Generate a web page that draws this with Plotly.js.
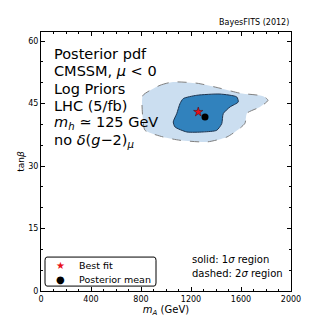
<!DOCTYPE html>
<html>
<head>
<meta charset="utf-8">
<script src="https://cdn.plot.ly/plotly-3.0.1.min.js"></script>
<style>
  html, body { margin: 0; padding: 0; background: #fff; }
  #plot { width: 324px; height: 324px; }
</style>
</head>
<body>
<div id="plot"></div>
<script>
// 2 sigma region (dashed)
var outerX = [816, 952, 1056, 1248, 1432, 1592, 1776, 1816, 1752, 1648, 1632, 1592, 1488, 1328, 1112, 976, 832, 816, 808, 816];
var outerY = [47.0, 49.4, 50.2, 49.9, 48.7, 47.5, 46.8, 45.8, 44.2, 42.7, 40.3, 39.1, 37.0, 35.8, 36.2, 37.0, 38.6, 41.0, 45.1, 47.0];

// 1 sigma region (solid)
var innerX = [1138, 1246, 1432, 1566, 1578, 1512, 1458, 1446, 1406, 1298, 1166, 1072, 1058, 1086, 1112, 1138];
var innerY = [46.2, 47.0, 47.3, 46.6, 45.4, 44.2, 42.6, 40.2, 38.6, 38.2, 38.2, 39.4, 40.6, 42.6, 45.0, 46.2];

var bestFit = {x: [1258], y: [43.0]};
var postMean = {x: [1312], y: [41.8]};

var infoLines = ['Posterior pdf', 'CMSSM, <i>μ</i> < 0', 'Log Priors', 'LHC (5/fb)',
                 '<i>m</i><sub><i>h</i></sub> ≃ 125 GeV', 'no <i>δ</i>(<i>g</i>−2)<sub><i>μ</i></sub>'];
var legendLabels = ['Best fit', 'Posterior mean'];

var font = 'DejaVu Sans, sans-serif';

var data = [
  {
    x: outerX, y: outerY, type: 'scatter', mode: 'lines', fill: 'toself',
    fillcolor: '#cbdef0', line: {color: '#7f7f7f', width: 1, dash: 'dash', shape: 'spline', smoothing: 0.6},
    showlegend: false, hoverinfo: 'skip'
  },
  {
    x: innerX, y: innerY, type: 'scatter', mode: 'lines', fill: 'toself',
    fillcolor: '#3182bd', line: {color: '#1f3550', width: 1, shape: 'spline', smoothing: 0.6},
    showlegend: false, hoverinfo: 'skip'
  },
  {
    x: bestFit.x, y: bestFit.y, type: 'scatter', mode: 'markers', name: legendLabels[0],
    marker: {symbol: 'star', size: 7, color: '#e8101a', line: {color: '#4a0000', width: 0.5}},
    showlegend: false
  },
  {
    x: postMean.x, y: postMean.y, type: 'scatter', mode: 'markers', name: legendLabels[1],
    marker: {symbol: 'circle', size: 7, color: '#000000'},
    showlegend: false
  }
];

var annotations = [
  {xref: 'paper', yref: 'paper', x: 1, y: 1.01, xanchor: 'right', yanchor: 'bottom',
   text: 'BayesFITS (2012)', showarrow: false, font: {size: 8, family: font}},
  {xref: 'paper', yref: 'paper', x: 0.595, y: 0.122, xanchor: 'left', yanchor: 'middle',
   text: 'solid: 1<i>σ</i> region', showarrow: false, font: {size: 10, family: font}},
  {xref: 'paper', yref: 'paper', x: 0.595, y: 0.068, xanchor: 'left', yanchor: 'middle',
   text: 'dashed: 2<i>σ</i> region', showarrow: false, font: {size: 10, family: font}},
  // hand-made legend (plotly's legend rows are too tall)
  {xref: 'paper', yref: 'paper', x: 0.076, y: 0.098, xanchor: 'center', yanchor: 'middle',
   text: '★', showarrow: false, font: {size: 10, family: font, color: '#e8101a'}},
  {xref: 'paper', yref: 'paper', x: 0.076, y: 0.043, xanchor: 'center', yanchor: 'middle',
   text: '●', showarrow: false, font: {size: 10, family: font, color: '#000'}},
  {xref: 'paper', yref: 'paper', x: 0.142, y: 0.098, xanchor: 'left', yanchor: 'middle',
   text: legendLabels[0], showarrow: false, font: {size: 9.5, family: font}},
  {xref: 'paper', yref: 'paper', x: 0.142, y: 0.043, xanchor: 'left', yanchor: 'middle',
   text: legendLabels[1], showarrow: false, font: {size: 9.5, family: font}}
];
infoLines.forEach(function(t, i) {
  annotations.push({xref: 'paper', yref: 'paper', x: 0.045, y: 0.915 - i * 0.067,
    xanchor: 'left', yanchor: 'middle', text: t, showarrow: false,
    font: {size: 14.5, family: font, color: '#000'}});
});

var layout = {
  width: 324, height: 324,
  margin: {l: 41, r: 33, t: 32, b: 33},
  paper_bgcolor: '#fff', plot_bgcolor: '#fff',
  font: {family: font, size: 8, color: '#000'},
  showlegend: false,
  xaxis: {
    title: {text: '<i>m</i><sub><i>A</i></sub> (GeV)', font: {size: 10}, standoff: 0},
    range: [0, 2000], dtick: 400, tick0: 0,
    showline: true, mirror: 'ticks', linecolor: '#000', linewidth: 1,
    ticks: 'inside', ticklen: 4, tickcolor: '#000',
    minor: {ticks: 'inside', dtick: 100, ticklen: 2, tickcolor: '#000'},
    showgrid: false, zeroline: false, tickfont: {size: 8}
  },
  yaxis: {
    title: {text: 'tan<i>β</i>', font: {size: 9}, standoff: 2},
    range: [0, 62.2], dtick: 15, tick0: 0,
    showline: true, mirror: 'ticks', linecolor: '#000', linewidth: 1,
    ticks: 'inside', ticklen: 4, tickcolor: '#000',
    minor: {ticks: 'inside', dtick: 5, ticklen: 2, tickcolor: '#000'},
    showgrid: false, zeroline: false, tickfont: {size: 8}
  },
  shapes: [
    {type: 'path', xref: 'paper', yref: 'paper',
     path: 'M 0.024 0.019 L 0.452 0.019 Q 0.46 0.019 0.46 0.031 L 0.46 0.119 Q 0.46 0.131 0.452 0.131 ' +
           'L 0.024 0.131 Q 0.016 0.131 0.016 0.119 L 0.016 0.031 Q 0.016 0.019 0.024 0.019 Z',
     line: {color: '#000', width: 1}, fillcolor: '#fff', layer: 'above'}
  ],
  annotations: annotations
};

Plotly.newPlot('plot', data, layout, {displayModeBar: false, staticPlot: true});
</script>
</body>
</html>
